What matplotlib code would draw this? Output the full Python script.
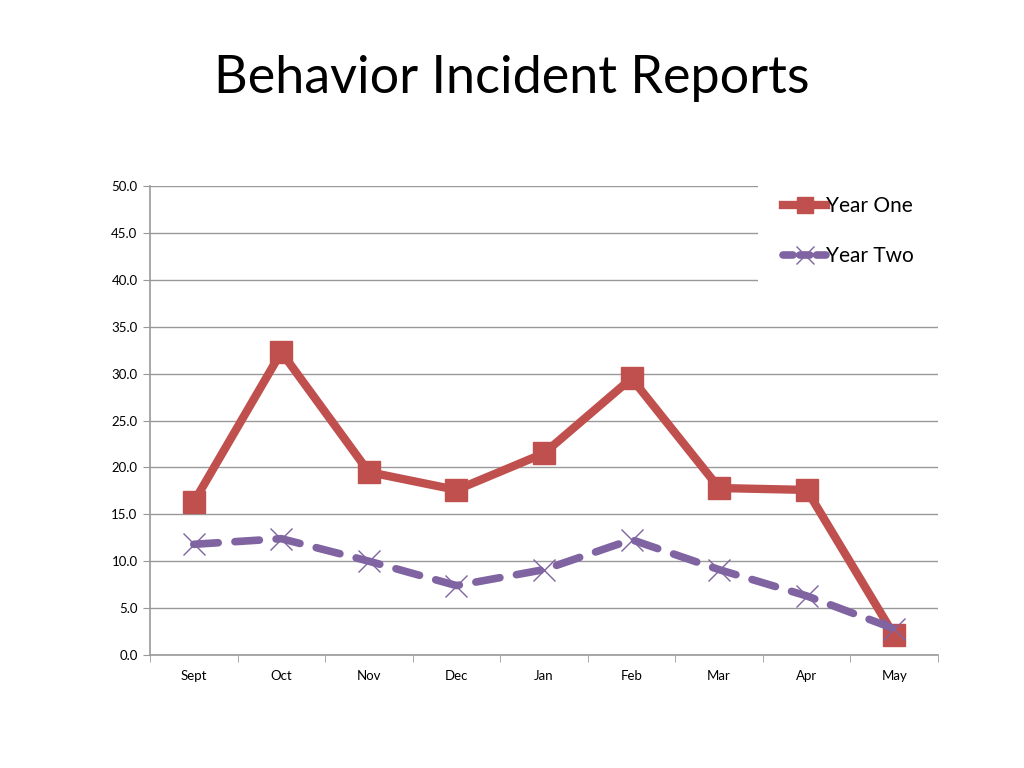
import matplotlib
matplotlib.use("Agg")
import matplotlib.pyplot as plt
import numpy as np
from matplotlib.lines import Line2D
from matplotlib.patches import Rectangle

months = ["Sept", "Oct", "Nov", "Dec", "Jan", "Feb", "Mar", "Apr", "May"]
year_one = [16.3, 32.3, 19.5, 17.6, 21.5, 29.5, 17.8, 17.6, 2.1]
year_two = [11.8, 12.4, 10.0, 7.4, 9.1, 12.3, 9.1, 6.3, 2.8]
yticks = [0, 5, 10, 15, 20, 25, 30, 35, 40, 45, 50]

plt.rcParams['font.family'] = ['Lato', 'DejaVu Sans']

fig = plt.figure(figsize=(10.24, 7.68), dpi=100)
ax = fig.add_axes([150/1024, 1-655/768, (938-150)/1024, (655-186)/768])

x = np.arange(len(months))
red = '#C0504D'
purple = '#8064A2'

ax.plot(x, year_one, color=red, lw=6, marker='s', markersize=16,
        markerfacecolor=red, markeredgecolor=red, label='Year One', zorder=3)
ax.plot(x, year_two, color=purple, lw=5.5, linestyle=(0, (3.2, 2.2)),
        dash_capstyle='round', label='Year Two', zorder=4)
ax.plot(x, year_two, linestyle='none', marker='x', markersize=16,
        markeredgecolor=purple, markeredgewidth=1.0, zorder=5)

ax.set_xlim(-0.5, 8.5)
ax.set_ylim(0, 50)
ax.set_yticks(yticks)
ax.set_yticklabels([f"{v:.1f}" for v in yticks], fontsize=9.5)
ax.set_xticks(x)
ax.set_xticklabels(months, fontsize=9.5)
ax.set_xticks(np.arange(-0.5, 9, 1), minor=True)
ax.tick_params(axis='x', which='major', length=0, pad=11)
ax.tick_params(axis='x', which='minor', length=5, color='#999999', direction='out')
ax.tick_params(axis='y', length=5, color='#999999', direction='out', pad=4)

ax.grid(axis='y', color='#999999', lw=1)
ax.set_axisbelow(True)
for s in ['top', 'right']:
    ax.spines[s].set_visible(False)
for s in ['left', 'bottom']:
    ax.spines[s].set_color('#999999')
    ax.spines[s].set_linewidth(1.2)

# white legend area covering the upper gridlines
ax.add_patch(Rectangle((0.772, (655-284)/469), 0.25, 0.03 + 98/469,
                       transform=ax.transAxes, facecolor='white',
                       edgecolor='none', zorder=2, clip_on=False))

h1 = Line2D([], [], color=red, lw=6, marker='s', markersize=12)
h2 = Line2D([], [], color=purple, lw=5.5, linestyle=(0, (1.3, 0.9)),
            dash_capstyle='round', marker='x', markersize=13,
            markeredgewidth=1.0)
leg = ax.legend([h1, h2], ['Year One', 'Year Two'], loc='upper left',
                bbox_to_anchor=(0.795, (655-190)/469), borderaxespad=0,
                frameon=False, fontsize=15,
                handlelength=2.1, handletextpad=0.0, labelspacing=1.45,
                borderpad=0.3)
leg.set_zorder(10)

fig.text(0.5, 1-79/768, "Behavior Incident Reports", ha='center', va='center',
         fontsize=37.5)

fig.savefig("out.png", dpi=100, facecolor='white')
